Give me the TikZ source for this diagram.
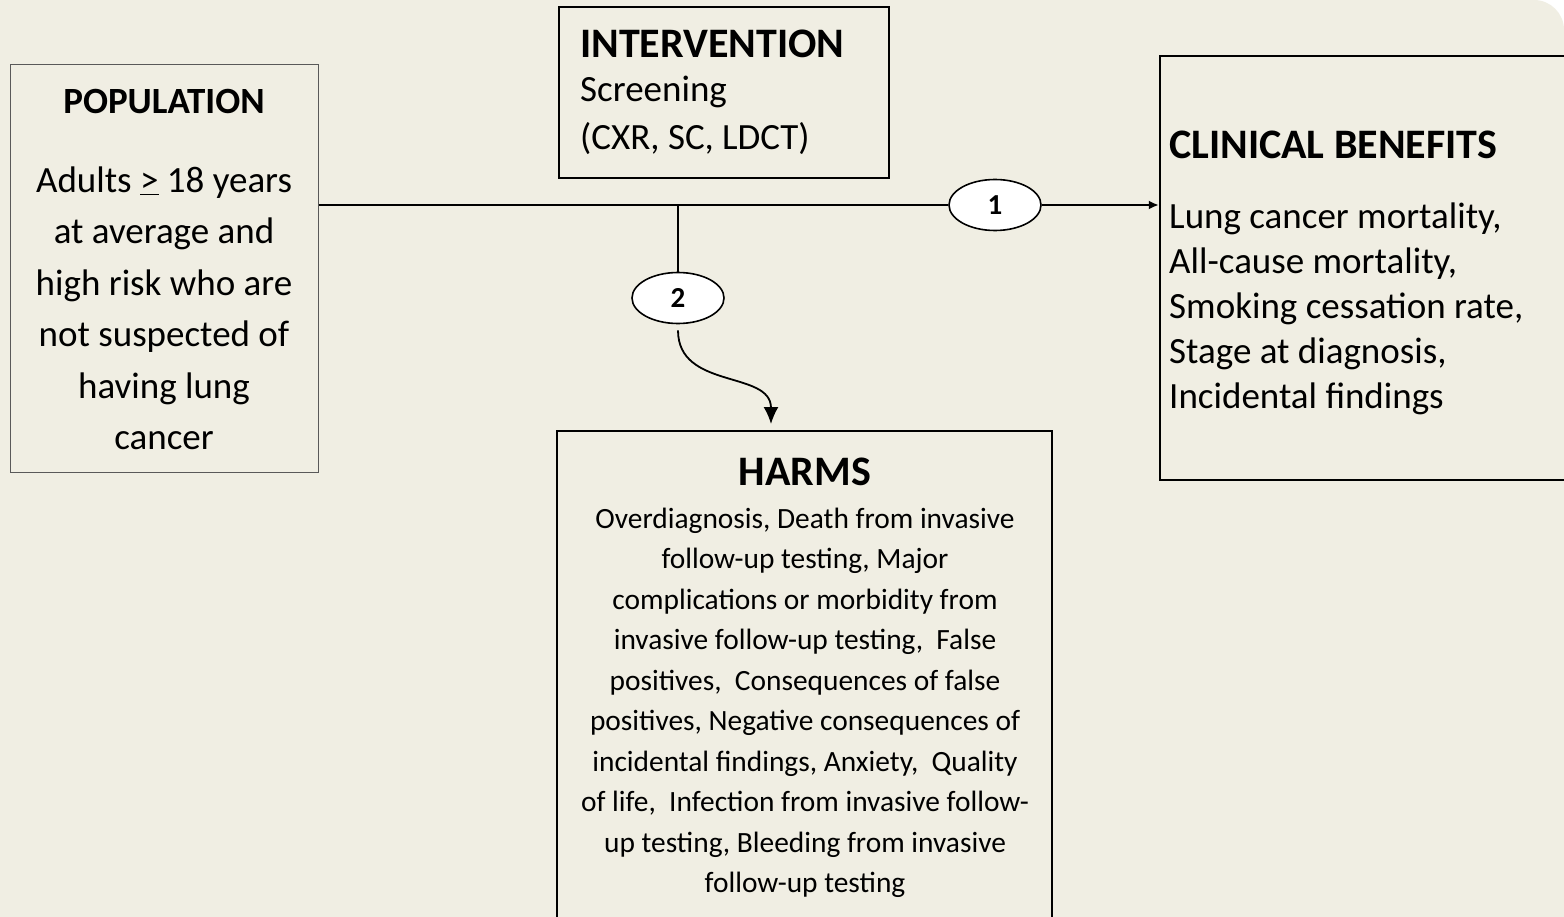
\documentclass[tikz,border=0pt]{standalone}
\usepackage{fontspec}
\setmainfont{Carlito}
\usepackage{tikz}
\usetikzlibrary{shapes.geometric, arrows.meta}
\usepackage{xcolor}
\definecolor{slidebg}{RGB}{240,238,227}

\begin{document}
\begin{tikzpicture}[x=1pt, y=-1pt,
    box/.style={draw, fill=slidebg, inner sep=0pt},
    title/.style={font=\fontsize{42}{48}\selectfont\bfseries, inner sep=0pt},
    num/.style={ellipse, draw, line width=1.6pt, fill=white, inner sep=0pt,
      minimum width=92pt, minimum height=51pt, font=\fontsize{29}{29}\selectfont\bfseries}]
    % page and background
    \useasboundingbox (0,0) rectangle (1564,917);
    \fill[white] (0,0) rectangle (1564,917);
    \fill[slidebg] (0,917) -- (0,0) -- (1530,0) [rounded corners=30pt] -- (1564,0)
      [sharp corners] -- (1564,917) -- cycle;
    % boxes
    \node[box, draw=black!65, line width=1pt, minimum width=308pt, minimum height=407pt] (pop) at (164,268.5) {};
    \node[box, line width=1.5pt, minimum width=330pt, minimum height=171pt] (int) at (724,92.5) {};
    \node[box, line width=2.5pt, minimum width=410pt, minimum height=424pt] (ben) at (1365,268) {};
    \node[box, line width=2pt, minimum width=495pt, minimum height=499pt] (harm) at (804.5,680.5) {};
    % texts
    \node[title, font=\fontsize{37}{42}\selectfont\bfseries] (poptitle) at (164,102) {POPULATION};
    \node[align=center, font=\fontsize{37}{51.5}\selectfont, inner sep=0pt] (poptext) at (164,308.5)
      {Adults \underline{>} 18 years\\ at average and\\ high risk who are\\ not suspected of\\ having lung\\ cancer};
    \node[title, anchor=west] (inttitle) at (580,44) {INTERVENTION};
    \node[align=left, anchor=west, font=\fontsize{37}{48}\selectfont, inner sep=0pt] (inttext) at (580,115)
      {Screening\\ (CXR, SC, LDCT)};
    \node[title, anchor=west] (bentitle) at (1169,145) {CLINICAL BENEFITS};
    \node[align=left, anchor=west, font=\fontsize{37}{45}\selectfont, inner sep=0pt] (bentext) at (1169,308.5)
      {Lung cancer mortality,\\ All-cause mortality,\\ Smoking cessation rate,\\ Stage at diagnosis,\\ Incidental findings};
    \node[title] (harmtitle) at (805,472) {HARMS};
    \node[align=center, font=\fontsize{29.4}{40.5}\selectfont, inner sep=0pt] (harmtext) at (805,703)
      {Overdiagnosis, Death from invasive\\ follow-up testing, Major\\ complications or morbidity from\\
       invasive follow-up testing,~ False\\ positives,~ Consequences of false\\
       positives, Negative consequences of\\ incidental findings, Anxiety,~ Quality\\
       of life,~ Infection from invasive follow-\\ up testing, Bleeding from invasive\\ follow-up testing};
    % key questions
    \node[num] (kq1) at (995,205) {1};
    \node[num] (kq2) at (678,298) {2};
    \coordinate (split) at (678,205);
    % connectors
    \draw[line width=1.8pt] (pop.east |- split) -- (kq1.west);
    \draw[line width=1.8pt, -{Latex[length=10pt,width=9pt]}] (kq1.east) -- (ben.west |- kq1);
    \draw[line width=1.8pt] (split) -- (kq2.north);
    \draw[line width=1.8pt, -{Latex[length=17pt,width=15pt]}, shorten <=6pt]
      (kq2.south) .. controls (678,390) and (771,370) .. (771,424);
\end{tikzpicture}
\end{document}
